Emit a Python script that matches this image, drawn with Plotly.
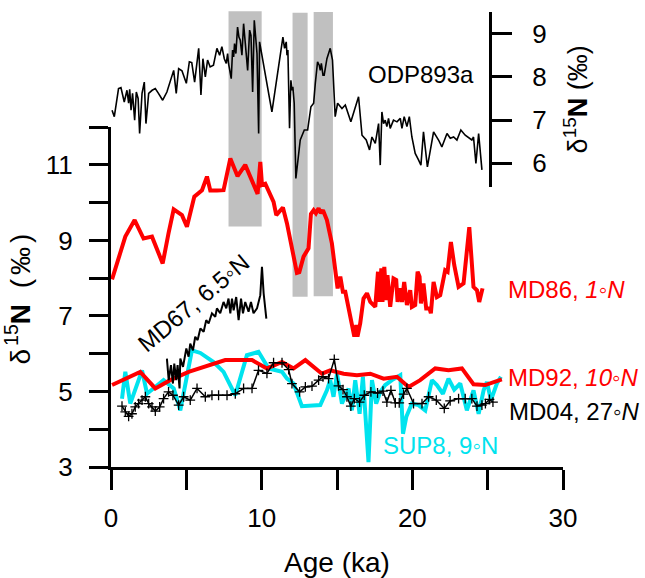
import plotly.graph_objects as go

# ---------------- data ----------------
odp_age = [0.07,0.22,0.5,0.66,0.88,1.06,1.17,1.24,1.33,1.43,1.57,1.68,1.8,1.9,2.06,2.21,2.32,2.5,2.73,2.94,
           3.15,3.43,3.71,3.93,4.16,4.33,4.49,4.71,5.0,5.2,5.36,5.55,5.82,5.97,6.1,6.26,6.41,6.58,6.8,7.03,
           7.21,7.36,7.52,7.65,7.74,7.8,7.98,8.07,8.14,8.2,8.29,8.4,8.49,8.58,8.69,8.8,8.96,9.07,9.2,9.29,
           9.4,9.51,9.69,9.8,9.86,10.68,11.41,11.52,11.63,11.68,11.74,11.85,11.94,12.01,12.07,12.16,12.27,12.56,12.83,13.05,
           13.27,13.45,13.56,13.71,13.82,13.89,13.96,14.07,14.15,14.33,14.55,14.7,14.88,15.04,15.33,15.55,15.92,16.15,16.43,16.66,
           16.94,17.16,17.32,17.54,17.76,17.87,17.98,18.09,18.2,18.31,18.42,18.53,18.75,18.98,19.2,19.31,19.46,19.64,19.8,19.97,
           20.19,20.41,20.57,20.74,21.0,21.41,21.74,21.96,22.3,22.52,22.74,22.96,23.22,23.51,23.8,23.95,24.06,24.22,24.4,24.62]
odp_d15n = [7.23,7.08,7.73,7.75,7.42,7.69,7.39,7.71,7.23,7.62,7.0,7.65,7.5,6.69,7.62,7.88,6.92,7.62,7.69,7.73,
            7.62,7.46,7.65,7.92,8.15,7.62,8.19,8.14,7.85,8.35,8.33,7.88,8.66,7.58,8.42,8.0,8.39,8.23,8.27,8.66,
            8.5,8.7,8.42,8.31,8.54,8.31,7.96,8.62,8.46,8.77,8.54,9.15,8.92,8.85,8.5,9.23,8.66,8.15,9.08,8.96,
            7.65,9.31,8.54,6.69,8.81,7.19,8.92,8.66,8.81,8.5,8.62,6.81,7.92,7.69,7.77,7.39,5.65,6.54,6.77,6.77,
            7.31,7.39,7.85,8.35,8.27,8.15,8.31,8.04,8.04,8.42,8.66,8.39,7.08,7.39,7.27,7.35,6.96,7.23,7.54,6.65,
            6.54,6.31,6.61,6.46,6.92,5.96,7.19,6.92,7.0,6.85,7.04,6.81,7.0,6.96,7.04,6.81,7.08,6.85,7.08,6.61,
            6.23,6.08,5.96,6.73,5.92,6.73,6.54,6.38,6.69,6.58,6.61,6.54,6.77,6.65,6.58,6.54,6.61,6.0,6.69,5.85]

md86_age = [0.07,0.95,1.57,2.16,2.72,3.43,3.82,4.16,4.71,5.04,5.53,6.04,6.37,6.59,7.03,7.47,7.92,8.4,8.91,9.36,
            9.73,9.91,10.02,10.24,10.46,10.79,10.97,11.41,11.68,12.01,12.34,12.5,12.78,13.11,13.27,13.45,13.6,13.78,13.93,14.07,
            14.33,14.66,14.88,15.04,15.22,15.39,15.55,15.77,15.99,16.15,16.28,16.36,16.54,16.76,16.99,17.21,17.54,17.72,17.83,17.94,
            18.02,18.14,18.27,18.35,18.53,18.75,18.93,19.02,19.15,19.31,19.46,19.64,19.86,19.97,20.19,20.35,20.48,20.57,20.74,20.92,
            21.14,21.23,21.41,21.63,21.85,22.18,22.34,22.56,22.78,23.07,23.4,23.78,24.06,24.29,24.44,24.66]
md86_d15n = [7.97,9.1,9.54,9.05,9.1,8.39,9.19,9.82,9.67,9.36,10.16,10.33,10.69,10.32,10.32,10.33,11.17,10.7,11.0,10.6,
             10.23,11.08,10.47,10.5,10.33,10.02,9.67,9.87,9.45,8.79,8.14,8.16,8.57,8.79,9.7,9.8,9.72,9.85,9.72,9.8,
             9.54,8.92,8.2,7.73,8.04,7.64,7.64,7.24,6.8,6.45,6.76,6.45,6.8,7.46,7.6,7.37,7.24,8.17,7.37,8.26,
             7.37,8.3,7.42,8.08,7.24,7.99,7.95,7.37,7.73,7.37,7.9,7.29,7.68,7.24,7.29,8.17,8.04,7.33,7.86,7.2,
             7.2,7.07,7.9,7.5,7.55,8.21,8.17,8.96,8.35,7.77,7.86,9.35,7.77,7.68,7.37,7.73]

md67_age = [3.71,3.83,3.98,4.11,4.2,4.33,4.42,4.55,4.6,4.78,5.0,5.15,5.26,5.44,5.59,5.75,5.93,6.15,6.32,6.48,
            6.7,6.92,7.03,7.25,7.47,7.65,7.8,7.92,8.03,8.14,8.31,8.47,8.63,8.76,8.91,9.13,9.29,9.46,9.69,9.91,
            10.02,10.13,10.31]
md67_d15n = [5.87,5.3,5.7,5.21,5.74,5.3,5.7,5.08,5.87,5.65,6.14,5.92,6.27,6.09,6.45,6.36,6.67,6.58,6.89,6.8,
             7.07,6.98,7.2,7.07,7.37,7.2,7.46,7.07,7.46,7.15,7.5,6.89,7.46,7.07,7.37,7.11,7.37,7.07,7.2,7.55,
             8.3,7.6,6.93]

md92_age = [0.07,1.94,2.94,3.93,5.15,6.59,7.58,9.36,10.35,11.35,12.12,12.9,14.0,14.55,15.44,16.32,17.21,18.09,18.98,19.75,
            20.52,21.52,22.4,23.29,24.06,24.84,25.94]
md92_d15n = [5.17,5.52,5.08,5.3,5.52,5.7,5.83,5.83,5.61,5.78,5.61,5.83,5.47,5.56,5.47,5.43,5.47,5.34,5.39,5.12,
             5.3,5.61,5.56,5.61,5.19,5.17,5.32]

md04_age = [0.73,0.95,1.17,1.39,1.61,1.83,2.06,2.28,2.5,2.72,2.94,3.23,3.49,3.82,4.11,4.49,4.82,5.26,5.71,6.26,
            6.7,7.14,7.7,8.25,8.8,9.36,9.79,10.35,10.79,11.35,11.79,12.01,12.52,12.9,13.34,13.78,14.07,14.44,14.82,15.1,
            15.4,15.66,15.92,16.15,16.5,16.81,17.25,17.69,18.05,18.31,18.58,18.87,19.13,19.42,19.64,20.08,20.64,21.08,21.59,22.12,
            22.51,23.07,23.51,23.95,24.29,24.62,24.85,25.12,25.35]
md04_d15n = [4.61,4.46,4.34,4.41,4.59,4.68,4.77,4.86,4.68,4.59,4.48,4.59,4.81,4.99,4.9,4.64,4.86,4.77,5.08,4.86,
             4.9,4.9,4.9,4.94,5.08,5.08,5.56,5.48,5.76,5.76,5.58,5.21,4.99,5.12,5.14,5.3,5.39,5.34,5.85,5.15,
             5.05,4.86,4.61,4.81,4.72,4.9,4.99,4.96,5.01,4.72,5.03,4.7,4.7,4.93,5.08,4.68,4.68,4.86,4.77,4.55,
             4.75,4.81,4.81,4.81,4.61,4.64,4.68,4.79,4.72]

sup8_age = [0.73,0.95,1.28,1.73,2.06,2.39,2.83,3.49,4.16,4.6,5.37,5.93,6.81,7.47,8.25,9.02,9.79,10.46,11.35,11.68,
            12.12,12.67,13.89,14.33,14.55,14.77,15.0,15.33,15.77,15.99,16.21,16.5,16.72,16.94,17.09,17.32,17.6,17.87,18.2,18.65,
            19.2,19.38,19.6,19.97,20.41,20.86,21.3,21.63,22.03,22.4,22.78,23.18,23.62,24.06,24.4,24.73,24.95,25.22,25.61,25.88]
sup8_d15n = [4.81,5.52,4.68,5.17,5.56,4.94,5.08,5.3,5.08,4.5,6.09,6.02,5.78,5.52,4.9,5.96,6.05,5.61,5.52,5.34,
             5.21,4.61,4.64,5.03,5.3,4.86,5.47,4.68,5.08,4.5,5.3,4.41,5.39,4.15,3.13,5.3,4.68,4.99,5.17,5.3,
             5.43,3.88,4.33,4.68,4.64,4.5,5.3,5.17,4.94,5.34,5.05,5.21,4.5,5.03,4.41,5.03,5.25,4.77,5.21,5.39]

# shaded intervals (ka); lower edge in lower-axis units, upper edge in ODP-axis units
shade_start = [7.8, 12.05, 13.45]
shade_end = [10.0, 13.05, 14.73]
shade_bottom = [9.37, 7.51, 7.52]
shade_top = [9.52, 9.48, 9.5]

x_major_ticks = [0, 10, 20, 30]
x_minor_ticks = [5, 15, 25]
y_major_ticks = [3, 5, 7, 9, 11]
y_minor_ticks = [4, 6, 8, 10, 12]
y2_ticks = [6, 7, 8, 9]

# ---------------- layout geometry ----------------
X_RANGE = [0, 30]
Y_RANGE = [3, 12]
Y_DOM = [0, 0.747]
Y2_RANGE = [5.46, 9.5]
Y2_DOM = [0.616, 1.0]

def lower_to_paper(v):
    return Y_DOM[0] + (v - Y_RANGE[0]) / (Y_RANGE[1] - Y_RANGE[0]) * (Y_DOM[1] - Y_DOM[0])

def upper_to_paper(v):
    return Y2_DOM[0] + (v - Y2_RANGE[0]) / (Y2_RANGE[1] - Y2_RANGE[0]) * (Y2_DOM[1] - Y2_DOM[0])

FONT = "Arial, Liberation Sans, sans-serif"
CYAN = "#00E3EE"
RED = "#FF0000"
GREY = "#C0C0C0"

fig = go.Figure()

fig.add_trace(go.Scatter(x=sup8_age, y=sup8_d15n, mode="lines", line=dict(color=CYAN, width=4),
                         name="SUP8", xaxis="x", yaxis="y"))
fig.add_trace(go.Scatter(x=md92_age, y=md92_d15n, mode="lines", line=dict(color=RED, width=4),
                         name="MD92", xaxis="x", yaxis="y"))
fig.add_trace(go.Scatter(x=md86_age, y=md86_d15n, mode="lines", line=dict(color=RED, width=4),
                         name="MD86", xaxis="x", yaxis="y"))
fig.add_trace(go.Scatter(x=md04_age, y=md04_d15n, mode="lines+markers",
                         line=dict(color="black", width=1.5),
                         marker=dict(symbol="cross-thin", size=7, line=dict(color="black", width=1.3)),
                         name="MD04", xaxis="x", yaxis="y"))
fig.add_trace(go.Scatter(x=md67_age, y=md67_d15n, mode="lines", line=dict(color="black", width=2),
                         name="MD67", xaxis="x", yaxis="y"))
fig.add_trace(go.Scatter(x=odp_age, y=odp_d15n, mode="lines", line=dict(color="black", width=1.6),
                         name="ODP893a", xaxis="x", yaxis="y2"))

shapes = []
for s, e, b, t in zip(shade_start, shade_end, shade_bottom, shade_top):
    shapes.append(dict(type="rect", xref="x", yref="paper", x0=s, x1=e,
                       y0=lower_to_paper(b), y1=upper_to_paper(t),
                       fillcolor=GREY, line=dict(width=0), layer="below"))

deg = "◦"
annotations = [
    dict(x=16.95, y=8.06, xref="x", yref="y2", text="ODP893a", showarrow=False,
         xanchor="left", yanchor="middle", font=dict(size=24, color="black", family=FONT)),
    dict(x=26.2, y=7.71, xref="x", yref="y", text="MD86, <i>1" + deg + "N</i>", showarrow=False,
         xanchor="left", yanchor="middle", font=dict(size=24, color=RED, family=FONT)),
    dict(x=26.2, y=5.37, xref="x", yref="y", text="MD92, <i>10" + deg + "N</i>", showarrow=False,
         xanchor="left", yanchor="middle", font=dict(size=24, color=RED, family=FONT)),
    dict(x=26.25, y=4.48, xref="x", yref="y", text="MD04, 27" + deg + "<i>N</i>", showarrow=False,
         xanchor="left", yanchor="middle", font=dict(size=24, color="black", family=FONT)),
    dict(x=17.95, y=3.57, xref="x", yref="y", text="SUP8, 9" + deg + "N", showarrow=False,
         xanchor="left", yanchor="middle", font=dict(size=24, color=CYAN, family=FONT)),
    dict(x=5.5, y=7.36, xref="x", yref="y", text="MD67, 6.5" + deg + "N", showarrow=False,
         textangle=-40, xanchor="center", yanchor="middle",
         font=dict(size=24, color="black", family=FONT)),
]

left_title = ("<span style='letter-spacing:3px'>δ</span><sup>15</sup>"
              "<span style='letter-spacing:4px'><b>N</b> (‰)</span>")
right_title = "δ<sup>15</sup><b>N</b> (‰)"

fig.update_layout(
    width=645, height=578,
    margin=dict(l=111, r=82, t=12, b=111, autoexpand=False),
    paper_bgcolor="white", plot_bgcolor="rgba(0,0,0,0)",
    showlegend=False,
    font=dict(family=FONT, size=24, color="black"),
    shapes=shapes,
    annotations=annotations,
    xaxis=dict(range=X_RANGE, domain=[0, 1], anchor="y", tickmode="array",
               tickvals=x_major_ticks,
               ticks="outside", ticklen=20, tickwidth=3, tickcolor="black",
               minor=dict(tickvals=x_minor_ticks, ticks="outside", ticklen=20, tickwidth=3,
                          tickcolor="black", showgrid=False),
               showline=True, linewidth=3, linecolor="black",
               showgrid=False, zeroline=False, ticklabelstandoff=6,
               tickfont=dict(size=26),
               title=dict(text="Age (ka)", font=dict(size=28), standoff=27)),
    yaxis=dict(range=Y_RANGE, domain=Y_DOM, anchor="x", tickmode="array",
               tickvals=y_major_ticks,
               ticks="outside", ticklen=19, tickwidth=3, tickcolor="black",
               minor=dict(tickvals=y_minor_ticks, ticks="outside", ticklen=19, tickwidth=3,
                          tickcolor="black", showgrid=False),
               showline=True, linewidth=3, linecolor="black",
               showgrid=False, zeroline=False, ticklabelstandoff=11,
               tickfont=dict(size=26),
               title=dict(text=left_title, font=dict(size=28), standoff=8)),
    yaxis2=dict(range=Y2_RANGE, domain=Y2_DOM, anchor="free", position=0.8385, side="right",
                tickmode="array", tickvals=y2_ticks,
                ticks="outside", ticklen=20, tickwidth=3, tickcolor="black",
                showline=True, linewidth=3, linecolor="black",
                showgrid=False, zeroline=False, ticklabelstandoff=15,
                tickfont=dict(size=26),
                title=dict(text=right_title, font=dict(size=27), standoff=22)),
)

fig.write_html("out.html", config={"displayModeBar": False},
               post_script="document.body.style.margin='0px';")
